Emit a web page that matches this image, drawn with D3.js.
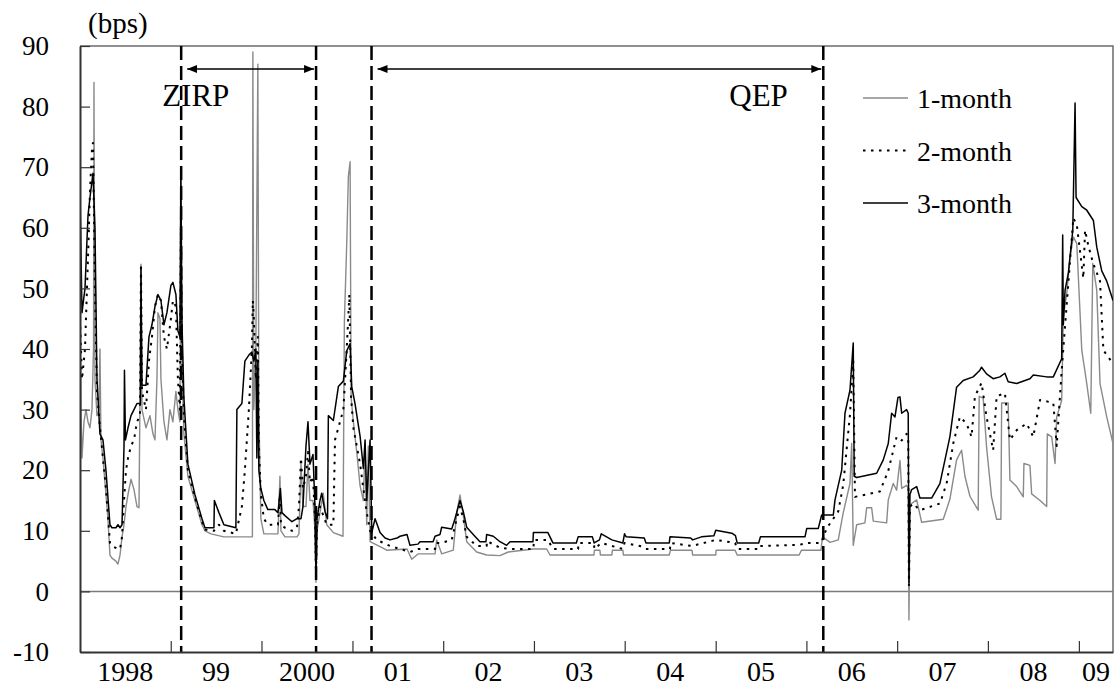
<!DOCTYPE html>
<html>
<head>
<meta charset="utf-8">
<script src="https://cdn.jsdelivr.net/npm/d3@7"></script>
<style>
body { margin: 0; background: #fff; }
text { font-family: "Liberation Serif", "Times New Roman", serif; fill: #000; }
</style>
</head>
<body>
<svg id="chart" width="1115" height="688"></svg>
<script>
// x axis: one label per calendar year
var yearLabels = ["1998", "99", "2000", "01", "02", "03", "04", "05", "06", "07", "08", "09"];
var yTicks = [-10, 0, 10, 20, 30, 40, 50, 60, 70, 80, 90];

// policy periods (decimal years)
var periodNames = ["ZIRP", "QEP"];
var periodStart = [1999.115, 2001.210];
var periodEnd = [2000.600, 2006.186];

var seriesNames = ["1-month", "2-month", "3-month"];

// 1-month spread, bps (time in decimal years)
var time1m = [1998.000,1998.011,1998.022,1998.044,1998.066,1998.088,1998.110,1998.132,1998.149,1998.154,1998.165,1998.187,1998.209,1998.220,1998.231,1998.253,1998.286,1998.308,1998.330,1998.352,1998.396,1998.418,1998.441,1998.463,1998.485,1998.507,1998.529,1998.562,1998.595,1998.628,1998.650,1998.661,1998.672,1998.683,1998.727,1998.771,1998.804,1998.826,1998.848,1998.859,1998.881,1998.892,1998.925,1998.958,1998.991,1999.024,1999.057,1999.079,1999.101,1999.112,1999.123,1999.145,1999.189,1999.266,1999.344,1999.377,1999.443,1999.586,1999.872,1999.900,1999.905,1999.916,1999.938,1999.960,1999.971,1999.993,2000.026,2000.181,2000.203,2000.214,2000.258,2000.390,2000.412,2000.434,2000.456,2000.489,2000.511,2000.533,2000.566,2000.588,2000.599,2000.610,2000.643,2000.679,2000.717,2000.790,2000.896,2000.911,2000.937,2000.955,2000.974,2000.985,2001.010,2001.047,2001.084,2001.120,2001.139,2001.157,2001.175,2001.194,2001.304,2001.378,2001.601,2001.653,2001.726,2001.910,2001.928,2001.983,2002.111,2002.149,2002.185,2002.221,2002.259,2002.369,2002.479,2002.626,2002.717,2002.992,2003.140,2003.176,2003.661,2003.666,2003.727,2003.732,2003.859,2003.864,2003.980,2003.986,2004.490,2004.503,2004.740,2004.746,2005.001,2005.005,2005.214,2005.237,2005.920,2005.945,2006.161,2006.177,2006.223,2006.260,2006.351,2006.406,2006.480,2006.499,2006.516,2006.554,2006.645,2006.664,2006.719,2006.737,2006.884,2006.902,2006.957,2006.994,2007.031,2007.050,2007.104,2007.122,2007.130,2007.141,2007.160,2007.215,2007.270,2007.508,2007.581,2007.655,2007.710,2007.747,2007.802,2007.893,2007.904,2007.948,2007.985,2008.040,2008.096,2008.143,2008.151,2008.223,2008.242,2008.316,2008.389,2008.396,2008.462,2008.481,2008.573,2008.646,2008.653,2008.701,2008.738,2008.756,2008.811,2008.829,2008.867,2008.903,2008.939,2008.977,2009.032,2009.087,2009.131,2009.153,2009.197,2009.233,2009.307,2009.376];
var bps1m = [50,30,22,28,30,28,27,30,40,84,35,29,30,40,25,22,16,12,6,5.5,5,4.5,6,9,11,14,16,18.5,16.8,14,13.8,32,54,30,27,29,26,25,35,46,45,35,28,25,30,28,33,30,28,60,38,26,19,15,11,10,9.5,9,9,9,89,30,40,87,30,12,9.5,9.5,19,10,9,9,9.5,21,14,14,21,15,15,10,1.5,10,13,16.2,11,9.7,9.1,44.4,57.4,68.5,70.9,32,28,23,17.4,15,24.4,11,24,8.2,7.4,6.8,7,5.3,6.2,6.2,8.5,6.2,6.8,13,15.9,12.6,8.2,6.5,6,5.9,6.5,7,7,6,6,6.8,6.8,6,6,6.8,6.8,6,6,6.8,6.8,6,6,6.8,6.8,6,6,6.8,6.8,9,8.5,8.1,8.5,13,17.8,24.4,7.6,11,11.3,13.8,13.8,11.6,11.3,15.1,17.8,16.7,21.6,17,17.5,17,-4.7,14,14.5,15.1,11.4,11.9,15.2,21.7,23.3,19,15.7,13.4,32.2,31.9,23.9,15.6,11.9,11.9,31.1,31.1,18.4,17.3,15.6,21.1,20.8,16.1,15,14,26,25.5,21.1,28.8,31.5,45.3,49.2,55.2,58.5,57.4,39.8,34.3,29.4,54.1,49.7,34.3,28.8,24.4];

// 2-month spread, bps
var time2m = [1998.000,1998.022,1998.055,1998.088,1998.110,1998.132,1998.143,1998.165,1998.187,1998.220,1998.253,1998.286,1998.330,1998.352,1998.418,1998.441,1998.463,1998.485,1998.507,1998.529,1998.562,1998.595,1998.628,1998.661,1998.672,1998.683,1998.727,1998.760,1998.793,1998.826,1998.859,1998.892,1998.925,1998.958,1999.002,1999.024,1999.057,1999.079,1999.101,1999.112,1999.123,1999.145,1999.189,1999.266,1999.344,1999.377,1999.476,1999.531,1999.586,1999.718,1999.784,1999.817,1999.861,1999.894,1999.905,1999.916,1999.938,1999.960,1999.971,1999.993,2000.026,2000.070,2000.181,2000.203,2000.214,2000.258,2000.335,2000.390,2000.412,2000.434,2000.456,2000.489,2000.511,2000.533,2000.566,2000.588,2000.599,2000.610,2000.643,2000.717,2000.790,2000.808,2000.845,2000.900,2000.937,2000.966,2000.985,2001.010,2001.047,2001.084,2001.120,2001.157,2001.194,2001.268,2001.414,2001.634,2001.722,2001.910,2001.921,2001.983,2002.094,2002.149,2002.185,2002.221,2002.259,2002.369,2002.479,2002.482,2002.626,2002.736,2002.994,2003.000,2003.154,2003.209,2003.487,2003.490,2003.661,2003.666,2003.742,2003.859,2003.980,2003.998,2004.167,2004.233,2004.498,2004.503,2004.740,2005.001,2005.214,2005.237,2005.493,2005.500,2005.929,2006.004,2006.161,2006.223,2006.351,2006.406,2006.480,2006.516,2006.535,2006.664,2006.810,2006.902,2006.994,2007.050,2007.104,2007.122,2007.130,2007.141,2007.177,2007.251,2007.471,2007.545,2007.618,2007.691,2007.765,2007.820,2007.857,2007.930,2007.985,2008.058,2008.096,2008.187,2008.242,2008.316,2008.426,2008.499,2008.573,2008.719,2008.756,2008.811,2008.867,2008.939,2008.977,2009.049,2009.068,2009.105,2009.160,2009.233,2009.270,2009.376];
var bps2m = [45,35,40,55,66,73,74,50,33,27,22,17,8,7.5,7,7,9,15,20,22,24,25,28,29,54,33,30,38,42,47,49,48,42,40,45,48,47,35,30,60,40,29,20,15.5,11.5,10.2,10,11,10,9.5,14,20,30,40,48,45,35,42,24,16,12,11,11,16,11,10.5,10,10.5,14,22,17,19,23,18,19,12,3,11,14,11,11,25,27,30,40,49,32,27,24,21,17,13,10,8.5,7.5,6.5,7,7,8,8,8.5,12,14,12,9,7.5,7.5,8.3,7.2,7,7,8.5,8.5,7,7,8,8,7,8,7.5,7,8,7.5,7,7,8,7.5,8.5,8,7,7,7.5,7.7,8,8,10.4,13.2,17.6,29.2,38,15.6,16,16.5,19.9,25.5,24.9,26,25,1,14,14.5,13.4,14.5,17.8,24.4,28.8,27.7,25.5,32.2,34.4,28.8,23.3,32.2,32.7,25,26.6,27.7,25.5,31.6,31.1,24,36.5,47.5,61.6,60.5,51.7,59.6,57,54,51.2,39.8,37.6];

// 3-month spread, bps
var time3m = [1998.000,1998.022,1998.055,1998.088,1998.110,1998.143,1998.165,1998.187,1998.220,1998.253,1998.286,1998.330,1998.352,1998.396,1998.418,1998.441,1998.463,1998.485,1998.490,1998.501,1998.529,1998.562,1998.595,1998.628,1998.666,1998.672,1998.683,1998.727,1998.760,1998.793,1998.826,1998.859,1998.892,1998.925,1998.958,1999.002,1999.024,1999.057,1999.079,1999.101,1999.112,1999.123,1999.145,1999.189,1999.266,1999.344,1999.377,1999.476,1999.481,1999.531,1999.586,1999.718,1999.729,1999.784,1999.817,1999.861,1999.894,1999.916,1999.938,1999.949,1999.960,1999.971,1999.993,2000.026,2000.070,2000.147,2000.181,2000.208,2000.225,2000.258,2000.335,2000.390,2000.434,2000.456,2000.489,2000.511,2000.533,2000.566,2000.588,2000.599,2000.610,2000.643,2000.662,2000.698,2000.726,2000.735,2000.790,2000.845,2000.900,2000.937,2000.974,2000.992,2001.029,2001.084,2001.120,2001.139,2001.157,2001.194,2001.213,2001.249,2001.304,2001.359,2001.414,2001.491,2001.524,2001.601,2001.634,2001.722,2001.744,2001.888,2001.910,2001.965,2001.983,2002.094,2002.130,2002.185,2002.221,2002.259,2002.331,2002.405,2002.471,2002.479,2002.552,2002.626,2002.699,2002.736,2002.989,2002.994,2003.154,2003.209,2003.467,2003.487,2003.644,2003.664,2003.722,2003.742,2003.859,2003.980,2003.998,2004.017,2004.215,2004.234,2004.490,2004.498,2004.726,2004.746,2004.844,2004.981,2005.001,2005.178,2005.218,2005.237,2005.474,2005.493,2005.984,2006.004,2006.131,2006.168,2006.296,2006.315,2006.389,2006.425,2006.480,2006.516,2006.527,2006.554,2006.774,2006.847,2006.902,2006.939,2006.976,2007.009,2007.031,2007.050,2007.104,2007.122,2007.130,2007.141,2007.160,2007.215,2007.251,2007.380,2007.471,2007.581,2007.655,2007.728,2007.838,2007.912,2007.930,2007.985,2008.058,2008.132,2008.187,2008.223,2008.316,2008.462,2008.499,2008.646,2008.719,2008.811,2008.822,2008.829,2008.848,2008.884,2008.933,2008.958,2008.969,2009.032,2009.087,2009.160,2009.197,2009.252,2009.307,2009.376];
var bps3m = [66,46,50,62,65,69,60,35,26,25,20,11,10.5,10.5,11,10.5,11,24,36.5,25,27,29,30,31,31,53,34,34,42,44,47,49,48,44,46,50.5,51,49,43,42,70,45,32,21,16,12,10.5,10.5,15,13,11,10.5,30,31,38,39,39.5,38,40,22,38,20,17,15,13.5,13.5,13,17,13,12.5,11.5,12,12,14,24,28,21,22.6,14,2.6,12,15,16.2,13.2,12,29,28.2,33.8,34.7,39.7,40.9,33.8,30.9,25.6,20.3,25,15,25,9.7,12,9.7,8.8,8.5,8.8,9.1,9.4,7.6,7.8,8.2,8.2,9.1,9.4,10.6,10.3,12,15,13.2,10.6,9.4,8.2,8.2,9.4,9.1,8.2,7.6,8.2,8.2,9.7,9.7,8,8,9,9,8,8.5,9.5,8.5,8,9.5,9,8.8,8,8,9,8.8,8.5,9,9.2,10.1,9.6,9.2,8,8,9,9,10.4,10.4,12.6,12.6,15.1,20,29.4,33.2,41,19,18.8,19.5,21.7,24.4,29.4,28.8,32,32.1,29.4,30,29.4,1.4,16,16.8,17.3,15.4,15.4,17.8,25.5,33.7,34.8,35.4,36.5,37,35.9,35.1,35.4,36,34.6,34.3,35.1,35.7,35.4,35.4,38.4,58.8,44,49.7,52.5,59.6,80.6,65,63.5,62.9,61.2,56.8,52.9,51.2,48];

var times = [time1m, time2m, time3m];
var values = [bps1m, bps2m, bps3m];

function yearToDate(t) {
  var yr = Math.floor(t);
  var a = new Date(yr, 0, 1), b = new Date(yr + 1, 0, 1);
  return new Date(+a + (t - yr) * (b - a));
}

var margin = { top: 46, right: 2, bottom: 36, left: 80 };
var svgW = 1115, svgH = 688;
var width = svgW - margin.left - margin.right;
var height = svgH - margin.top - margin.bottom;

var svg = d3.select("#chart");
var g = svg.append("g").attr("transform", "translate(" + margin.left + "," + margin.top + ")");

var xStart = yearToDate(1998), xEnd = yearToDate(time3m[time3m.length - 1]);
var x = d3.scaleTime().domain([xStart, xEnd]).range([0, width]);
var y = d3.scaleLinear().domain([-10, 90]).range([height, 0]);

g.append("clipPath").attr("id", "plot-clip")
  .append("rect").attr("width", width).attr("height", height);

// frame top/right
g.append("path")
  .attr("d", "M0,0H" + width + "V" + height)
  .attr("fill", "none").attr("stroke", "#6b6b6b").attr("stroke-width", 1.5);

// zero line
g.append("line")
  .attr("x1", 0).attr("x2", width)
  .attr("y1", y(0)).attr("y2", y(0))
  .attr("stroke", "#7a7a7a").attr("stroke-width", 1.5);

// series lines
var styles = [
  { stroke: "#8a8a8a", width: 1.4, dash: null },
  { stroke: "#000", width: 2, dash: "2.5,5.5" },
  { stroke: "#000", width: 1.5, dash: null }
];

var line = d3.line()
  .x(function(d) { return x(d.date); })
  .y(function(d) { return y(d.value); });

var plot = g.append("g").attr("clip-path", "url(#plot-clip)");
seriesNames.forEach(function(name, i) {
  var pts = times[i].map(function(t, j) { return { date: yearToDate(t), value: values[i][j] }; });
  plot.append("path")
    .datum(pts)
    .attr("fill", "none")
    .attr("stroke", styles[i].stroke)
    .attr("stroke-width", styles[i].width)
    .attr("stroke-dasharray", styles[i].dash)
    .attr("stroke-linejoin", "round")
    .attr("d", line);
});

// policy boundaries
var bounds = periodStart.concat(periodEnd);
g.selectAll(".boundary").data(bounds).enter().append("line")
  .attr("class", "boundary")
  .attr("x1", function(d) { return x(yearToDate(d)); })
  .attr("x2", function(d) { return x(yearToDate(d)); })
  .attr("y1", 0).attr("y2", height)
  .attr("stroke", "#000").attr("stroke-width", 2.5)
  .attr("stroke-dasharray", "14,6");

// arrows
var defs = svg.append("defs");
defs.append("marker").attr("id", "ahead")
  .attr("viewBox", "0 0 10 8").attr("refX", 10).attr("refY", 4)
  .attr("markerWidth", 10).attr("markerHeight", 8)
  .attr("markerUnits", "userSpaceOnUse").attr("orient", "auto-start-reverse")
  .append("path").attr("d", "M0,0L10,4L0,8Z").attr("fill", "#000");

var arrowY = 23;
periodNames.forEach(function(name, i) {
  var x0 = x(yearToDate(periodStart[i])), x1 = x(yearToDate(periodEnd[i]));
  g.append("line")
    .attr("x1", x0 + 6).attr("x2", x1 - 2)
    .attr("y1", arrowY).attr("y2", arrowY)
    .attr("stroke", "#000").attr("stroke-width", 1.5)
    .attr("marker-start", "url(#ahead)").attr("marker-end", "url(#ahead)");
});
g.append("text").attr("x", x(yearToDate(periodStart[0])) - 19).attr("y", 60)
  .style("font-size", "31px").text(periodNames[0]);
g.append("text").attr("x", x(yearToDate(periodEnd[1])) - 94).attr("y", 60)
  .style("font-size", "31px").text(periodNames[1]);

// axes
var yAxis = d3.axisLeft(y).tickValues(yTicks).tickSize(-10).tickSizeOuter(0)
  .tickPadding(31).tickFormat(function(d) { return String(d); });
var yg = g.append("g").call(yAxis);
yg.select(".domain").attr("stroke", "#333").attr("stroke-width", 2);
yg.selectAll(".tick line").attr("stroke", "#333").attr("stroke-width", 1.2);
yg.selectAll(".tick text").style("font-size", "27px")
  .style("font-family", "'Liberation Serif', 'Times New Roman', serif").attr("fill", "#000");

var yearStarts = d3.range(1999, 2010).map(function(yr) { return new Date(yr, 0, 1); });
var xAxis = d3.axisBottom(x).tickValues(yearStarts).tickSize(-11).tickSizeOuter(0).tickFormat("");
var xg = g.append("g").attr("transform", "translate(0," + height + ")").call(xAxis);
xg.select(".domain").attr("stroke", "#333").attr("stroke-width", 2);
xg.selectAll(".tick line").attr("stroke", "#333").attr("stroke-width", 1.2);

g.selectAll(".year-label").data(yearLabels).enter().append("text")
  .attr("class", "year-label")
  .attr("x", function(d, i) {
    var a = new Date(1998 + i, 0, 1), b = new Date(1999 + i, 0, 1);
    var xa = Math.max(x(a), 0), xb = Math.min(x(b), width);
    return (xa + xb) / 2;
  })
  .attr("y", height + 29)
  .attr("text-anchor", "middle")
  .style("font-size", "28px")
  .text(function(d) { return d; });

svg.append("text").attr("x", 88).attr("y", 33).style("font-size", "29px").text("(bps)");

// legend
var legend = g.append("g").attr("transform", "translate(783,52)");
seriesNames.forEach(function(name, i) {
  var row = legend.append("g").attr("transform", "translate(0," + (i * 52.5) + ")");
  row.append("line").attr("x1", 0).attr("x2", 45).attr("y1", 0).attr("y2", 0)
    .attr("stroke", styles[i].stroke).attr("stroke-width", styles[i].width)
    .attr("stroke-dasharray", styles[i].dash);
  row.append("text").attr("x", 54).attr("y", 10).style("font-size", "28px").text(name);
});
</script>
</body>
</html>
